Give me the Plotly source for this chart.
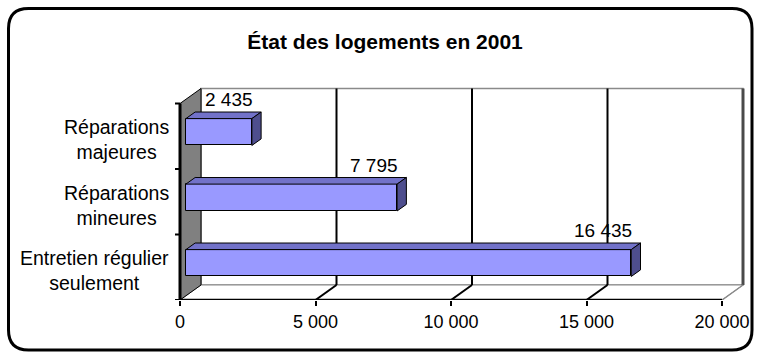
import plotly.graph_objects as go

# ---- data -----------------------------------------------------------------
categories = ["Entretien régulier<br>seulement", "Réparations<br>mineures", "Réparations<br>majeures"]
values = [16435, 7795, 2435]
tick_values = [0, 5000, 10000, 15000, 20000]
tick_labels = ["0", "5 000", "10 000", "15 000", "20 000"]
title_text = "État des logements en 2001"

# ---- geometry of the pseudo-3D frame ---------------------------------------
W, H = 761, 356
X0_PX, X1_PX = 180, 722          # front axis: pixel of 0 and of XMAX
FLOOR_PX = 300                   # pixel row of the front axis
BAND_PX = 65.5                   # height of one category band
XMAX = tick_values[-1]
k = (X1_PX - X0_PX) / XMAX       # pixels per value unit
DX = 21 / k                      # depth shift, value units
DY = 15 / BAND_PX                # depth shift, category units
N = len(categories)
Y_BOT, Y_TOP = -0.5, N - 0.5
FC, BC = 0.28, 0.72              # front / back depth fraction of bars
BAR_H = 0.41

FONT = "Arial, Liberation Sans, sans-serif"
FRONT, TOP, SIDE = "#9999FF", "#7272C9", "#4E4E8E"

fig = go.Figure()
shapes = []


def seg(x0, y0, x1, y1, color="black", width=2):
    shapes.append(dict(type="line", xref="x", yref="y", x0=x0, y0=y0, x1=x1, y1=y1,
                       line=dict(color=color, width=width), layer="below"))


def poly(pts, fill, color="black", width=1):
    path = "M " + " L ".join(f"{x},{y}" for x, y in pts) + " Z"
    shapes.append(dict(type="path", xref="x", yref="y", path=path, fillcolor=fill,
                       line=dict(color=color, width=width), layer="below"))


# back wall
poly([(DX, Y_BOT + DY), (XMAX + DX, Y_BOT + DY), (XMAX + DX, Y_TOP + DY), (DX, Y_TOP + DY)],
     "white", "#8a8a8a", 1.5)
# floor
poly([(0, Y_BOT), (XMAX, Y_BOT), (XMAX + DX, Y_BOT + DY), (DX, Y_BOT + DY)], "white", "#8a8a8a", 1)
# left side wall
poly([(0, Y_BOT), (DX, Y_BOT + DY), (DX, Y_TOP + DY), (0, Y_TOP)], "#808080", "black", 1)
seg(0, Y_BOT, 0, Y_TOP, "black", 3)
seg(XMAX + DX, Y_BOT + DY, XMAX + DX, Y_TOP + DY, "#4a4a4a", 3)

# gridlines on back wall and floor
for v in tick_values[1:-1]:
    seg(v + DX, Y_BOT + DY, v + DX, Y_TOP + DY, "black", 2)
    seg(v, Y_BOT, v + DX, Y_BOT + DY, "black", 2)
seg(XMAX, Y_BOT, XMAX + DX, Y_BOT + DY, "#8a8a8a", 1.5)

# category axis ticks
for yb in [Y_BOT + j for j in range(N + 1)]:
    seg(-5 / k, yb, 0, yb, "black", 2)
# value axis line
seg(0, Y_BOT, XMAX, Y_BOT, "black", 2.5)

# ---- bars -----------------------------------------------------------------
ys = [i + FC * DY for i in range(N)]
fig.add_trace(go.Bar(
    orientation="h", y=ys, x=values, base=[FC * DX] * N, width=BAR_H,
    marker=dict(color=FRONT, line=dict(color="black", width=1)),
    hoverinfo="skip", showlegend=False,
))

ddx, ddy = (BC - FC) * DX, (BC - FC) * DY
for yc, v in zip(ys, values):
    x_l, x_r = FC * DX, FC * DX + v
    y_t, y_b = yc + BAR_H / 2, yc - BAR_H / 2
    top = [(x_l, y_t), (x_r, y_t), (x_r + ddx, y_t + ddy), (x_l + ddx, y_t + ddy), (x_l, y_t)]
    side = [(x_r, y_t), (x_r, y_b), (x_r + ddx, y_b + ddy), (x_r + ddx, y_t + ddy), (x_r, y_t)]
    for pts, col in ((top, TOP), (side, SIDE)):
        fig.add_trace(go.Scatter(
            x=[p[0] for p in pts], y=[p[1] for p in pts], mode="lines", fill="toself",
            fillcolor=col, line=dict(color="black", width=1),
            hoverinfo="skip", showlegend=False,
        ))

annotations = []
# value labels
for yc, v in zip(ys, values):
    annotations.append(dict(
        x=FC * DX + v + 3 / k, y=yc + BAR_H / 2 + ddy, xref="x", yref="y",
        text=f"{v:,}".replace(",", " "), showarrow=False,
        xanchor="right", yanchor="bottom", font=dict(family=FONT, size=19, color="black"),
    ))
# category labels
for i, c in enumerate(categories):
    annotations.append(dict(
        x=-9 / k, y=i - 0.05, xref="x", yref="y", text=c, showarrow=False,
        xanchor="right", yanchor="middle", align="center",
        font=dict(family=FONT, size=19.5, color="black"),
    ))

# outer rounded frame
L, T, R, B, rad = 8.5, 8.5, 752, 350, 20


def px(xp, yp):
    return f"{xp / W},{1 - yp / H}"


frame = (f"M {px(L + rad, T)} L {px(R - rad, T)} Q {px(R, T)} {px(R, T + rad)} "
         f"L {px(R, B - rad)} Q {px(R, B)} {px(R - rad, B)} L {px(L + rad, B)} "
         f"Q {px(L, B)} {px(L, B - rad)} L {px(L, T + rad)} Q {px(L, T)} {px(L + rad, T)} Z")
shapes.append(dict(type="path", xref="paper", yref="paper", path=frame,
                   line=dict(color="black", width=3), layer="above"))

fig.update_layout(
    width=W, height=H, margin=dict(l=0, r=0, t=0, b=0),
    paper_bgcolor="white", plot_bgcolor="white",
    title=dict(text=f"<b>{title_text}</b>", x=0.506, xanchor="center",
               y=1 - 42 / H, yanchor="middle", yref="container",
               font=dict(family=FONT, size=21, color="black")),
    xaxis=dict(range=[-X0_PX / k, (W - X0_PX) / k], domain=[0, 1],
               tickvals=tick_values, ticktext=tick_labels, ticks="outside",
               ticklen=5, tickwidth=2, tickcolor="black", showgrid=False,
               zeroline=False, showline=False,
               tickfont=dict(family=FONT, size=18, color="black")),
    yaxis=dict(range=[Y_BOT, Y_BOT + FLOOR_PX / BAND_PX], domain=[(H - FLOOR_PX) / H, 1],
               showticklabels=False, showgrid=False, zeroline=False, showline=False),
    shapes=shapes, annotations=annotations, bargap=0,
)

fig.write_html("out.html")
